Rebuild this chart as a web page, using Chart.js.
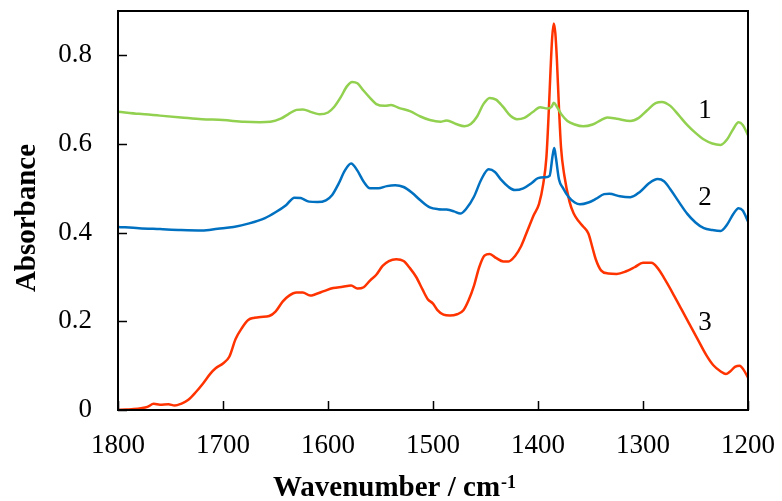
<!DOCTYPE html>
<html>
<head>
<meta charset="utf-8">
<script src="https://cdn.jsdelivr.net/npm/chart.js@4.4.1/dist/chart.umd.min.js"></script>
<style>
  body { margin: 0; background: #fff; }
  canvas { display: block; }
</style>
</head>
<body>
<canvas id="irChart" width="782" height="501"></canvas>
<script>
// spectrum 1 (green)
var wn1 = [1800, 1780, 1760, 1740, 1720, 1700, 1680, 1665, 1655, 1645, 1638, 1630, 1624, 1616, 1608, 1600,
  1594, 1588, 1582, 1577, 1572, 1566, 1560, 1554, 1546, 1540, 1532, 1522, 1512, 1503, 1493, 1487, 1478,
  1470, 1464, 1458, 1452, 1446, 1440, 1433, 1426, 1420, 1413, 1405, 1398, 1391, 1387, 1385, 1382, 1378,
  1372, 1365, 1357, 1348, 1340, 1334, 1325, 1312, 1304, 1296, 1288, 1282, 1274, 1266, 1258, 1250, 1242,
  1234, 1226, 1220, 1214, 1209, 1205, 1200];
var abs1 = [0.673, 0.668, 0.664, 0.660, 0.656, 0.654, 0.650, 0.649, 0.650, 0.657, 0.667, 0.677, 0.678, 0.672, 0.667, 0.671,
  0.684, 0.705, 0.730, 0.740, 0.737, 0.720, 0.704, 0.690, 0.686, 0.688, 0.681, 0.674, 0.662, 0.654, 0.650, 0.653, 0.645,
  0.640, 0.645, 0.662, 0.690, 0.704, 0.700, 0.683, 0.663, 0.656, 0.659, 0.672, 0.683, 0.680, 0.684, 0.693, 0.684, 0.668,
  0.652, 0.644, 0.640, 0.644, 0.654, 0.660, 0.657, 0.652, 0.659, 0.676, 0.692, 0.695, 0.686, 0.665, 0.643, 0.625, 0.610,
  0.601, 0.598, 0.610, 0.634, 0.649, 0.643, 0.620];

// spectrum 2 (blue)
var wn2 = [1800, 1780, 1760, 1740, 1720, 1705, 1690, 1675, 1660, 1650, 1640, 1632, 1626, 1618, 1610, 1602,
  1596, 1590, 1584, 1578, 1572, 1566, 1560, 1552, 1544, 1536, 1528, 1520, 1512, 1503, 1495, 1487, 1480,
  1474, 1468, 1461, 1454, 1447, 1441, 1435, 1428, 1422, 1414, 1406, 1400, 1393, 1389, 1386, 1384.5, 1383,
  1380, 1376, 1371, 1365, 1360, 1352, 1345, 1337, 1332, 1322, 1312, 1303, 1294, 1286, 1280, 1274, 1266,
  1258, 1250, 1242, 1234, 1226, 1220, 1214, 1209, 1205, 1200];
var abs2 = [0.413, 0.410, 0.408, 0.406, 0.405, 0.409, 0.413, 0.421, 0.433, 0.446, 0.462, 0.479, 0.478, 0.470, 0.469, 0.473,
  0.485, 0.510, 0.540, 0.556, 0.540, 0.515, 0.500, 0.500, 0.505, 0.507, 0.503, 0.490, 0.473, 0.457, 0.453, 0.452, 0.448,
  0.443, 0.455, 0.481, 0.520, 0.543, 0.537, 0.519, 0.503, 0.496, 0.500, 0.512, 0.523, 0.525, 0.528, 0.575, 0.591, 0.570,
  0.520, 0.500, 0.481, 0.468, 0.464, 0.468, 0.476, 0.487, 0.488, 0.482, 0.480, 0.492, 0.512, 0.521, 0.516, 0.498, 0.470,
  0.443, 0.423, 0.410, 0.406, 0.404, 0.418, 0.442, 0.455, 0.450, 0.425];

// spectrum 3 (red)
var wn3 = [1800, 1792, 1785, 1778, 1772, 1766, 1760, 1752, 1746, 1740, 1733, 1726, 1719, 1712, 1707, 1700,
  1694, 1688, 1682, 1676, 1670, 1664, 1656, 1650, 1643, 1637, 1630, 1624, 1617, 1612, 1604, 1595, 1586,
  1578, 1572, 1566, 1560, 1554, 1548, 1542, 1535, 1528, 1522, 1516, 1510, 1505, 1500, 1496, 1490, 1484,
  1477, 1471, 1466, 1461, 1456, 1451, 1446, 1440, 1433, 1428, 1422, 1416, 1410, 1404, 1399, 1395, 1392,
  1390, 1388, 1386.5, 1385, 1383.5, 1382, 1380, 1378, 1375, 1370, 1366, 1361, 1357, 1352, 1348, 1345,
  1340, 1333, 1325, 1316, 1308, 1300, 1292, 1286, 1280, 1272, 1264, 1256, 1248, 1240, 1233, 1226, 1221,
  1217, 1212, 1208, 1204, 1200];
var abs3 = [0.000, 0.001, 0.002, 0.004, 0.007, 0.014, 0.012, 0.013, 0.010, 0.014, 0.023, 0.040, 0.060, 0.082, 0.094, 0.105,
  0.120, 0.160, 0.185, 0.203, 0.208, 0.210, 0.212, 0.222, 0.245, 0.258, 0.265, 0.265, 0.258, 0.261, 0.268, 0.275, 0.278,
  0.281, 0.274, 0.277, 0.292, 0.305, 0.325, 0.336, 0.340, 0.336, 0.320, 0.300, 0.272, 0.250, 0.240, 0.226, 0.215, 0.213,
  0.216, 0.225, 0.248, 0.280, 0.322, 0.348, 0.352, 0.343, 0.335, 0.335, 0.347, 0.370, 0.405, 0.440, 0.465, 0.510, 0.570,
  0.660, 0.770, 0.840, 0.872, 0.850, 0.790, 0.680, 0.590, 0.530, 0.470, 0.443, 0.425, 0.414, 0.398, 0.365, 0.340,
  0.315, 0.308, 0.307, 0.313, 0.322, 0.332, 0.332, 0.320, 0.298, 0.265, 0.230, 0.195, 0.160, 0.125, 0.101, 0.087, 0.081,
  0.087, 0.098, 0.100, 0.090, 0.073];

var xTicks = [1800, 1700, 1600, 1500, 1400, 1300, 1200];
var yTicks = [0, 0.2, 0.4, 0.6, 0.8];

// curve numbers written next to the spectra
var curveNames = ['1', '2', '3'];
var curveNameWn = [1241, 1241, 1241];
var curveNameAbs = [0.674, 0.479, 0.197];

function toPoints(xs, ys) {
  return xs.map(function(x, i) { return { x: x, y: ys[i] }; });
}

var serif = "'Liberation Serif', 'Times New Roman', serif";

// no extra room for overhanging tick labels, the layout padding handles it
function noScalePadding(scale) {
  scale.paddingLeft = 0;
  scale.paddingRight = 0;
  scale.paddingTop = 0;
  scale.paddingBottom = 0;
}

// box around the plot, ticks pointing inward, curve numbers and axis titles
var framePlugin = {
  id: 'frame',
  afterDraw: function(chart) {
    var ctx = chart.ctx;
    var a = chart.chartArea;
    var xs = chart.scales.x;
    var ys = chart.scales.y;
    ctx.save();
    ctx.strokeStyle = '#000';
    ctx.lineWidth = 1.5;
    ctx.beginPath();
    xTicks.forEach(function(t) {
      var px = Math.round(xs.getPixelForValue(t)) + 0.5;
      ctx.moveTo(px, a.bottom);
      ctx.lineTo(px, a.bottom - 9);
    });
    yTicks.forEach(function(t) {
      var py = Math.round(ys.getPixelForValue(t)) + 0.5;
      ctx.moveTo(a.left, py);
      ctx.lineTo(a.left + 9, py);
    });
    ctx.stroke();
    ctx.lineWidth = 2;
    ctx.strokeRect(a.left, a.top, a.right - a.left, a.bottom - a.top);

    ctx.fillStyle = '#000';
    ctx.font = '27px ' + serif;
    ctx.textAlign = 'center';
    ctx.textBaseline = 'middle';
    curveNames.forEach(function(name, i) {
      ctx.fillText(name, xs.getPixelForValue(curveNameWn[i]), ys.getPixelForValue(curveNameAbs[i]));
    });

    // x title with superscript
    ctx.textBaseline = 'alphabetic';
    ctx.textAlign = 'left';
    var main = 'Wavenumber / cm';
    var sup = '-1';
    ctx.font = 'bold 29px ' + serif;
    var wMain = ctx.measureText(main).width;
    ctx.font = 'bold 18px ' + serif;
    var wSup = ctx.measureText(sup).width;
    var x0 = 394 - (wMain + wSup) / 2;
    ctx.font = 'bold 29px ' + serif;
    ctx.fillText(main, x0, 496);
    ctx.font = 'bold 18px ' + serif;
    ctx.fillText(sup, x0 + wMain + 1, 488);

    // y title
    ctx.translate(35, 218);
    ctx.rotate(-Math.PI / 2);
    ctx.textAlign = 'center';
    ctx.font = 'bold 29px ' + serif;
    ctx.fillText('Absorbance', 0, 0);
    ctx.restore();
  }
};

var ctx = document.getElementById('irChart');
var chart = new Chart(ctx, {
  type: 'line',
  data: {
    datasets: [{
      label: '1',
      data: toPoints(wn1, abs1),
      borderColor: '#92D050'
    }, {
      label: '2',
      data: toPoints(wn2, abs2),
      borderColor: '#0070C0'
    }, {
      label: '3',
      data: toPoints(wn3, abs3),
      borderColor: '#FF3300'
    }]
  },
  options: {
    responsive: false,
    animation: false,
    devicePixelRatio: 1,
    layout: { padding: { top: 11, right: 34, left: 0, bottom: 0 } },
    elements: {
      point: { radius: 0 },
      line: { borderWidth: 2.5, cubicInterpolationMode: 'monotone', fill: false }
    },
    plugins: {
      legend: { display: false },
      tooltip: { enabled: false }
    },
    scales: {
      x: {
        type: 'linear',
        reverse: true,
        min: 1200,
        max: 1800,
        afterFit: function(scale) { scale.height = 91; noScalePadding(scale); },
        afterBuildTicks: function(scale) {
          scale.ticks = xTicks.map(function(v) { return { value: v }; });
        },
        grid: { display: false, drawTicks: false },
        border: { display: false },
        ticks: {
          padding: 20,
          color: '#000',
          font: { family: serif, size: 27 },
          callback: function(v) { return String(v); }
        },
        title: { display: false }
      },
      y: {
        min: 0,
        max: 0.9,
        afterFit: function(scale) { scale.width = 118; noScalePadding(scale); },
        afterBuildTicks: function(scale) {
          scale.ticks = yTicks.map(function(v) { return { value: v }; });
        },
        grid: { display: false, drawTicks: false },
        border: { display: false },
        ticks: {
          padding: 26,
          color: '#000',
          font: { family: serif, size: 27 },
          callback: function(v) { return v === 0 ? '0' : v.toFixed(1); }
        },
        title: { display: false }
      }
    }
  },
  plugins: [framePlugin]
});
</script>
</body>
</html>
